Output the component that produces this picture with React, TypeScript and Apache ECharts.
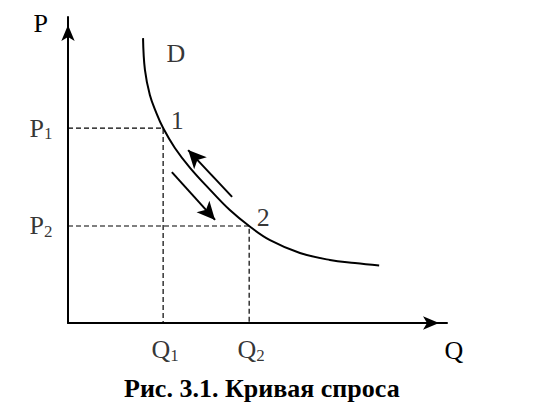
import React, { useEffect, useRef } from "react";
import * as echarts from "echarts";

// Demand curve D (quantity Q, price P) in chart units
const curveQ = [1.98, 2.03, 2.16, 2.32, 2.51, 2.82, 3.22, 3.75, 4.27, 4.78, 5.33, 6.12, 6.91, 7.57, 8.21];
const curveP = [9.31, 8.27, 7.45, 6.9, 6.37, 5.72, 5.07, 4.35, 3.69, 3.17, 2.71, 2.29, 2.06, 1.96, 1.88];

// Equilibrium points 1 and 2
const pointNames = ["1", "2"];
const pointQ = [2.51, 4.78];
const pointP = [6.37, 3.17];
const priceLabels = ["P{s|1}", "P{s|2}"];
const quantityLabels = ["Q{s|1}", "Q{s|2}"];

// Movement arrows along the curve: [fromQ, fromP, toQ, toP]
const arrowUp = [4.33, 4.12, 3.17, 5.65];
const arrowDown = [2.74, 4.93, 3.88, 3.37];

const curveName = "D";
const xName = "Q";
const yName = "P";
const caption = "Рис. 3.1. Кривая спроса";

const FONT = "'Liberation Serif', 'DejaVu Serif', serif";

export default function App() {
  const ref = useRef<HTMLDivElement>(null);
  useEffect(() => {
    const chart = echarts.init(ref.current!, null, { renderer: "svg" });
    const sub = { fontSize: 17, fontFamily: FONT, color: "#000", padding: [11, 0, 0, 0] };
    const dashed: any[] = [];
    pointQ.forEach((q, i) => {
      dashed.push({
        type: "line",
        data: [[0, pointP[i]], [q, pointP[i]], [q, 0]],
        symbol: "none",
        lineStyle: { color: "#000", width: 1.2, type: [5, 3] },
        silent: true,
        z: 1,
      });
    });
    const lbl = { fontFamily: FONT, fontSize: 26, color: "#000" };
    const option: any = {
      animation: false,
      textStyle: { fontFamily: FONT },
      title: {
        text: caption,
        left: 119,
        top: 370,
        textStyle: { fontFamily: FONT, fontWeight: "bold", fontSize: 26, color: "#000" },
      },
      grid: { left: 68, top: 17, right: 90, bottom: 90 },
      xAxis: {
        type: "value",
        min: 0,
        max: 10,
        name: xName,
        nameLocation: "end",
        nameGap: 7,
        nameTextStyle: { ...lbl, align: "center", verticalAlign: "top", padding: [14, 0, 0, 0] },
        axisLine: { show: true, lineStyle: { color: "#000", width: 2 }, symbol: ["none", "arrow"], symbolSize: [10, 16], symbolOffset: [0, -8] },
        axisTick: { show: false },
        axisLabel: { show: false },
        splitLine: { show: false },
      },
      yAxis: {
        type: "value",
        min: 0,
        max: 10,
        name: yName,
        nameLocation: "end",
        nameGap: -6,
        nameTextStyle: { ...lbl, align: "right", verticalAlign: "middle", padding: [0, 20, 0, 0] },
        axisLine: { show: true, lineStyle: { color: "#000", width: 2 }, symbol: ["none", "arrow"], symbolSize: [10, 16], symbolOffset: [0, -8] },
        axisTick: { show: false },
        axisLabel: { show: false },
        splitLine: { show: false },
      },
      series: [
        ...dashed,
        {
          type: "line",
          name: curveName,
          data: curveQ.map((q, i) => [q, curveP[i]]),
          smooth: 0.4,
          symbol: "none",
          lineStyle: { color: "#000", width: 2 },
          z: 3,
          markLine: {
            silent: true,
            symbol: ["none", "arrow"],
            symbolSize: [13, 18],
            label: { show: false },
            lineStyle: { color: "#000", width: 2, type: "solid" },
            data: [
              [{ coord: [arrowUp[0], arrowUp[1]] }, { coord: [arrowUp[2], arrowUp[3]] }],
              [{ coord: [arrowDown[0], arrowDown[1]] }, { coord: [arrowDown[2], arrowDown[3]] }],
            ],
          },
        },
        {
          type: "scatter",
          symbolSize: 1,
          itemStyle: { color: "rgba(0,0,0,0)" },
          silent: true,
          z: 5,
          data: [
            ...pointQ.map((q, i) => ({
              value: [q, pointP[i]],
              label: { show: true, formatter: pointNames[i], position: "right", distance: 7, offset: [0, -8], ...lbl },
            })),
            ...pointP.map((p, i) => ({
              value: [0, p],
              label: { show: true, formatter: priceLabels[i], position: "left", distance: 15, ...lbl, rich: { s: sub } },
            })),
            ...pointQ.map((q, i) => ({
              value: [q, 0],
              label: { show: true, formatter: quantityLabels[i], position: "bottom", distance: 12, offset: [2, 0], ...lbl, rich: { s: sub } },
            })),
            {
              value: [curveQ[0], curveP[0]],
              label: { show: true, formatter: curveName, position: "right", distance: 23, offset: [0, 15], ...lbl },
            },
          ],
        },
      ],
    };
    chart.setOption(option);
    return () => chart.dispose();
  }, []);
  return <div ref={ref} style={{ position: "fixed", left: 0, top: 0, width: 537, height: 413, background: "#fff" }} />;
}
